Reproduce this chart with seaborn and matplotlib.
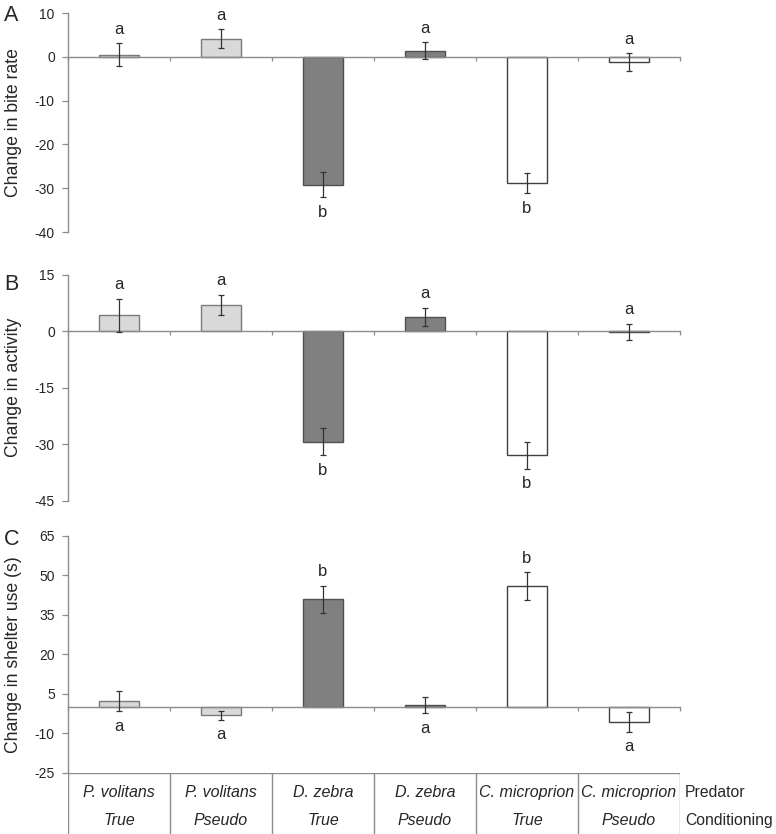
import matplotlib
matplotlib.use("Agg")
import matplotlib.pyplot as plt
import seaborn as sns
import pandas as pd
import numpy as np

predators = ["P. volitans", "P. volitans", "D. zebra", "D. zebra", "C. microprion", "C. microprion"]
conditioning = ["True", "Pseudo", "True", "Pseudo", "True", "Pseudo"]
groups = ["PvT", "PvP", "DzT", "DzP", "CmT", "CmP"]

bite_rate = [0.5, 4.1, -29.2, 1.4, -28.9, -1.2]
bite_se = [2.6, 2.2, 2.8, 2.0, 2.3, 2.0]
activity = [4.3, 7.0, -29.4, 3.8, -33.0, -0.2]
activity_se = [4.4, 2.75, 3.6, 2.5, 3.5, 2.2]
shelter = [2.2, -3.1, 40.9, 0.7, 45.8, -5.7]
shelter_se = [3.9, 1.7, 5.1, 3.0, 5.4, 3.7]

letters_a = ["a", "a", "b", "a", "b", "a"]
letters_b = ["a", "a", "b", "a", "b", "a"]
letters_c = ["a", "a", "b", "a", "b", "a"]
side_a = ["up", "up", "down", "up", "down", "up"]
side_b = ["up", "up", "down", "up", "down", "up"]
side_c = ["down", "down", "up", "down", "up", "down"]

yticks_a = [10, 0, -10, -20, -30, -40]
yticks_b = [15, 0, -15, -30, -45]
yticks_c = [65, 50, 35, 20, 5, -10, -25]

fills = ["#d9d9d9", "#d9d9d9", "#808080", "#808080", "#ffffff", "#ffffff"]
edges = ["#7a7a7a", "#7a7a7a", "#505050", "#505050", "#404040", "#404040"]

sns.set_style("white")
plt.rcParams["font.family"] = ["Liberation Sans", "DejaVu Sans"]

fig = plt.figure(figsize=(7.76, 8.34), dpi=100)
W, H = 776, 834
left_px, right_px = 68, 680

def make_ax(top_px, bottom_px):
    return fig.add_axes([left_px / W, 1 - bottom_px / H, (right_px - left_px) / W, (bottom_px - top_px) / H])

axA = make_ax(13, 232)
axB = make_ax(275, 500.5)
axC = make_ax(535.7, 772.7)

panels = [
    (axA, bite_rate, bite_se, letters_a, side_a, yticks_a, "Change in bite rate", "A", 2),
    (axB, activity, activity_se, letters_b, side_b, yticks_b, "Change in activity", "B", 9),
    (axC, shelter, shelter_se, letters_c, side_c, yticks_c, "Change in shelter use (s)", "C", 4),
]

axis_gray = "#8c8c8c"
for ax, vals, se, lets, sides, yt, ylab, tag, tag_dy in panels:
    df = pd.DataFrame({"group": groups, "value": vals})
    sns.barplot(data=df, x="group", y="value", hue="group", palette=fills,
                width=0.4, errorbar=None, legend=False, ax=ax, zorder=2)
    for p, ec in zip(ax.patches, edges):
        p.set_edgecolor(ec)
        p.set_linewidth(1.0)
    x = np.arange(len(groups))
    ax.errorbar(x, vals, yerr=se, fmt="none", ecolor="#333333", elinewidth=0.9,
                capsize=2.5, capthick=0.9, zorder=3)
    for xi, v, s, l, sd in zip(x, vals, se, lets, sides):
        if sd == "up":
            ax.annotate(l, (xi, v + s), xytext=(0, 10),
                        textcoords="offset points", ha="center", va="center", fontsize=12)
        else:
            ax.annotate(l, (xi, v - s), xytext=(0, -11),
                        textcoords="offset points", ha="center", va="center", fontsize=12)
    ax.set_xlim(-0.5, 5.5)
    ax.set_ylim(yt[-1], yt[0])
    ax.set_yticks(yt)
    ax.set_yticklabels([str(t) for t in yt])
    ax.set_xticks(np.arange(-0.5, 6.0, 1.0))
    ax.set_xticklabels([])
    ax.set_xlabel("")
    ax.set_ylabel(ylab, fontsize=12.7)
    ax.yaxis.set_label_coords((22 - left_px) / (right_px - left_px), 0.5)
    for s in ["top", "right"]:
        ax.spines[s].set_visible(False)
    ax.spines["left"].set_color(axis_gray)
    ax.spines["bottom"].set_color(axis_gray)
    ax.spines["bottom"].set_position(("data", 0))
    ax.spines["left"].set_linewidth(1.0)
    ax.spines["bottom"].set_linewidth(1.0)
    ax.tick_params(axis="y", direction="out", length=4.5, width=0.9, color=axis_gray,
                   labelsize=10, pad=5, left=True)
    ax.tick_params(axis="x", direction="out", length=3, width=0.9, color=axis_gray, bottom=True)
    ax.patch.set_alpha(0)
    ax.annotate(tag, (0, 1), xycoords="axes fraction",
                xytext=(4 - left_px, -tag_dy), textcoords="offset pixels",
                fontsize=15.5, ha="left", va="center")

# bottom table
axT = fig.add_axes([left_px / W, 0, (right_px - left_px) / W, (834 - 772.7) / H])
axT.set_xlim(-0.5, 5.5)
axT.set_ylim(0, 1)
axT.axis("off")
axT.axhline(1, color=axis_gray, lw=1.0)
for b in np.arange(-0.5, 6.0, 1.0):
    axT.axvline(b, color=axis_gray, lw=1.0)
for i, (p, c) in enumerate(zip(predators, conditioning)):
    axT.text(i, 0.67, p, ha="center", va="center", fontsize=11.5, style="italic")
    axT.text(i, 0.22, c, ha="center", va="center", fontsize=11.5, style="italic")
axT.text(5.55, 0.67, "Predator", ha="left", va="center", fontsize=11.3)
axT.text(5.55, 0.22, "Conditioning", ha="left", va="center", fontsize=11.3)

fig.savefig("out.png", dpi=100)
